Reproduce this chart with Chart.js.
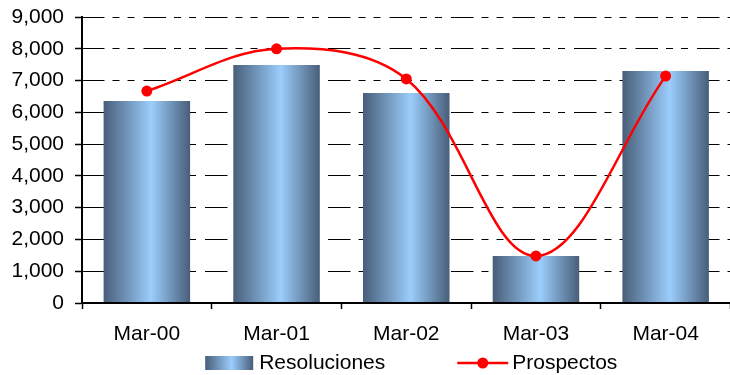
<!DOCTYPE html>
<html><head><meta charset="utf-8">
<script src="https://cdn.jsdelivr.net/npm/chart.js@4/dist/chart.umd.min.js"></script>
<style>html,body{margin:0;padding:0;overflow:hidden;background:#fff;width:730px;height:375px}canvas{display:block}</style>
</head><body>
<canvas id="c" width="736" height="375" style="width:736px;height:375px"></canvas>
<script>
const categories = ['Mar-00', 'Mar-01', 'Mar-02', 'Mar-03', 'Mar-04'];
const resoluciones = [6360, 7490, 6610, 1480, 7300];
const prospectos = [6670, 8000, 7050, 1480, 7140];
const yTickValues = [0, 1000, 2000, 3000, 4000, 5000, 6000, 7000, 8000, 9000];
const seriesNames = ['Resoluciones', 'Prospectos'];

const FONT = "'Liberation Sans', Arial, sans-serif";
Chart.defaults.font.family = FONT;
Chart.defaults.font.size = 21;
Chart.defaults.color = '#000';

const BAR_PCT = 0.667;
function barGradient(c, x0, x1) {
  const g = c.createLinearGradient(x0, 0, x1, 0);
  g.addColorStop(0, '#485e79');
  g.addColorStop(0.55, '#9bcdfc');
  g.addColorStop(1, '#485e79');
  return g;
}

const legendPlugin = {
  id: 'customLegend',
  afterDraw(chart) {
    const c = chart.ctx;
    const area = chart.chartArea;
    c.save();
    c.font = '21px ' + FONT;
    c.textBaseline = 'middle';
    c.fillStyle = '#000';
    const boxW = 48, lineW = 51, gap1 = 6, gap2 = 4, itemGap = 72;
    const t1 = c.measureText(seriesNames[0]).width;
    const t2 = c.measureText(seriesNames[1]).width;
    const total = boxW + gap1 + t1 + itemGap + lineW + gap2 + t2;
    let x = (area.left + area.right) / 2 - total / 2 + 5;
    const y = 363;
    c.fillStyle = barGradient(c, x, x + boxW);
    c.fillRect(x, y - 7, boxW, 14);
    x += boxW + gap1;
    c.fillStyle = '#000';
    c.fillText(seriesNames[0], x, y);
    x += t1 + itemGap;
    c.strokeStyle = '#ff0000';
    c.lineWidth = 2.5;
    c.beginPath(); c.moveTo(x, y); c.lineTo(x + lineW, y); c.stroke();
    c.fillStyle = '#ff0000';
    c.beginPath(); c.arc(x + lineW / 2, y, 5.5, 0, Math.PI * 2); c.fill();
    x += lineW + gap2;
    c.fillStyle = '#000';
    c.fillText(seriesNames[1], x, y);
    c.restore();
  }
};

new Chart(document.getElementById('c'), {
  data: {
    labels: categories,
    datasets: [
      {
        type: 'bar',
        label: seriesNames[0],
        data: resoluciones,
        order: 1,
        barPercentage: BAR_PCT,
        categoryPercentage: 1,
        borderWidth: 0,
        backgroundColor: (ctx) => {
          const chart = ctx.chart;
          const xs = chart.scales && chart.scales.x;
          if (!xs || ctx.type !== 'data' || !xs.width) return '#7fa6cf';
          const cx = xs.getPixelForValue(ctx.dataIndex);
          const w = xs.width / categories.length * BAR_PCT;
          return barGradient(chart.ctx, cx - w / 2, cx + w / 2);
        }
      },
      {
        type: 'line',
        label: seriesNames[1],
        data: prospectos,
        order: 0,
        borderColor: '#ff0000',
        borderWidth: 2.5,
        pointRadius: 5.5,
        pointBackgroundColor: '#ff0000',
        pointBorderWidth: 0,
        tension: 0.36,
        fill: false
      }
    ]
  },
  options: {
    responsive: false,
    devicePixelRatio: 1,
    animation: false,
    layout: { padding: { top: 17, left: 0, right: 0, bottom: 0 } },
    plugins: { legend: { display: false }, tooltip: { enabled: false } },
    scales: {
      x: {
        offset: true,
        grid: { drawOnChartArea: false, drawTicks: true, tickLength: 6, tickColor: '#000', tickWidth: 1.5, offset: true },
        border: { display: true, color: '#000', width: 2, z: 1 },
        ticks: { padding: 13, color: '#000', font: { size: 21 } },
        afterFit: (s) => { s.height = 72; s.paddingLeft = 0; s.paddingRight = 0; }
      },
      y: {
        min: 0, max: 9000,
        afterBuildTicks: (s) => { s.ticks = yTickValues.map(v => ({ value: v })); },
        grid: { color: '#000', lineWidth: 1, tickLength: 7, tickColor: '#000', tickWidth: 1.5, tickBorderDash: [] },
        border: { display: true, color: '#000', width: 2, z: 1, dash: [22.5, 8, 7, 8, 7, 9], dashOffset: 1 },
        ticks: { padding: 11, color: '#000', font: { size: 21 }, callback: (v) => Number(v).toLocaleString('en-US') },
        afterFit: (s) => { s.width = 82; s.paddingTop = 0; s.paddingBottom = 0; }
      }
    }
  },
  plugins: [legendPlugin]
});
</script>
</body></html>
